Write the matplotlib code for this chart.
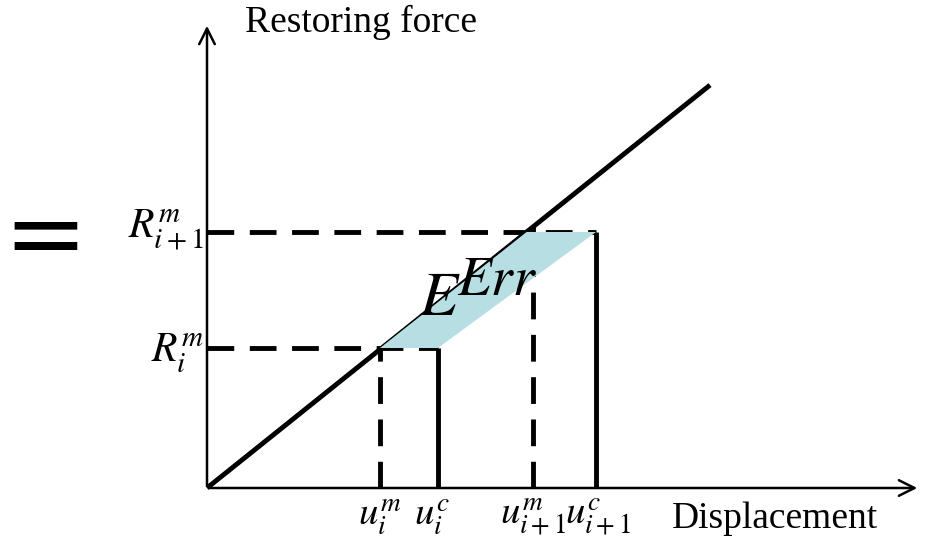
import numpy as np
import matplotlib
matplotlib.use("Agg")
import matplotlib.pyplot as plt

plt.rcParams['mathtext.fontset'] = 'stix'
plt.rcParams['font.family'] = ['Liberation Serif', 'DejaVu Serif']

# displacement / force values (picture units, origin at the axes corner)
stiffness = 0.801
line_end = 503
u_m = [173, 326]          # measured displacements u_i^m, u_{i+1}^m
u_c = [231, 389]          # command displacements u_i^c, u_{i+1}^c
R_m = [140, 256]          # measured forces R_i^m, R_{i+1}^m
u_labels = [r'$u_i^m$', r'$u_i^c$', r'$u_{i+1}^m$', r'$u_{i+1}^c$']
R_labels = [r'$R_i^m$', r'$R_{i+1}^m$']

fig = plt.figure(figsize=(9.38, 5.45), dpi=100)
ax = fig.add_axes([0, 0, 1, 1])
ax.set_xlim(-207, 731)
ax.set_ylim(-57, 488)
ax.axis('off')

# axes arrows
ax.annotate('', xy=(0, 465), xytext=(0, 0),
            arrowprops=dict(arrowstyle='->', lw=1.8, color='black', mutation_scale=28))
ax.annotate('', xy=(713, 0), xytext=(0, 0),
            arrowprops=dict(arrowstyle='->', lw=1.8, color='black', mutation_scale=28))

# restoring force line
xs = np.array([0, line_end])
ax.plot(xs, stiffness * xs, color='black', lw=3.5, solid_capstyle='butt', zorder=3)

# dashed force levels
dash = (0, (5.5, 3.2))
ax.plot([0, u_c[0]], [R_m[0], R_m[0]], color='black', lw=3.5, ls=dash, zorder=2)
ax.plot([0, u_c[1]], [R_m[1], R_m[1]], color='black', lw=3.5, ls=dash, zorder=2)

# measured (dashed) and command (solid) displacements
for um in u_m:
    ax.plot([um, um], [0, stiffness * um], color='black', lw=3.5, ls=dash, zorder=2)
for uc, R in zip(u_c, R_m):
    ax.plot([uc, uc], [0, R], color='black', lw=3.5, solid_capstyle='butt', zorder=2)

# error energy area
x_top = R_m[1] / stiffness
poly_x = [u_m[0], u_c[0], u_c[1], x_top]
poly_y = [R_m[0], R_m[0], R_m[1], R_m[1]]
ax.fill(poly_x, poly_y, color='#b7dfe3', lw=0, zorder=4)
ax.text(212, 173, r'$E$', fontsize=45, ha='left', va='baseline', zorder=5)
ax.text(250, 193, r'$Err$', fontsize=40, ha='left', va='baseline', zorder=5)

# labels
ax.text(-3, 126, R_labels[0], fontsize=30, ha='right', va='baseline')
ax.text(-3, 250, R_labels[1], fontsize=30, ha='right', va='baseline')
for u, lab in zip([u_m[0] - 22, u_c[0] - 24, u_m[1] - 33, u_c[1] - 31], u_labels):
    ax.text(u, -37, lab, fontsize=28, ha='left', va='baseline')

ax.text(38, 466, 'Restoring force', fontsize=27, ha='left', va='center')
ax.text(465, -31, 'Displacement', fontsize=27, ha='left', va='center')
ax.text(-162, 248, '=', fontsize=72, ha='center', va='center', fontfamily='DejaVu Sans')

fig.savefig('out.png', dpi=100)
